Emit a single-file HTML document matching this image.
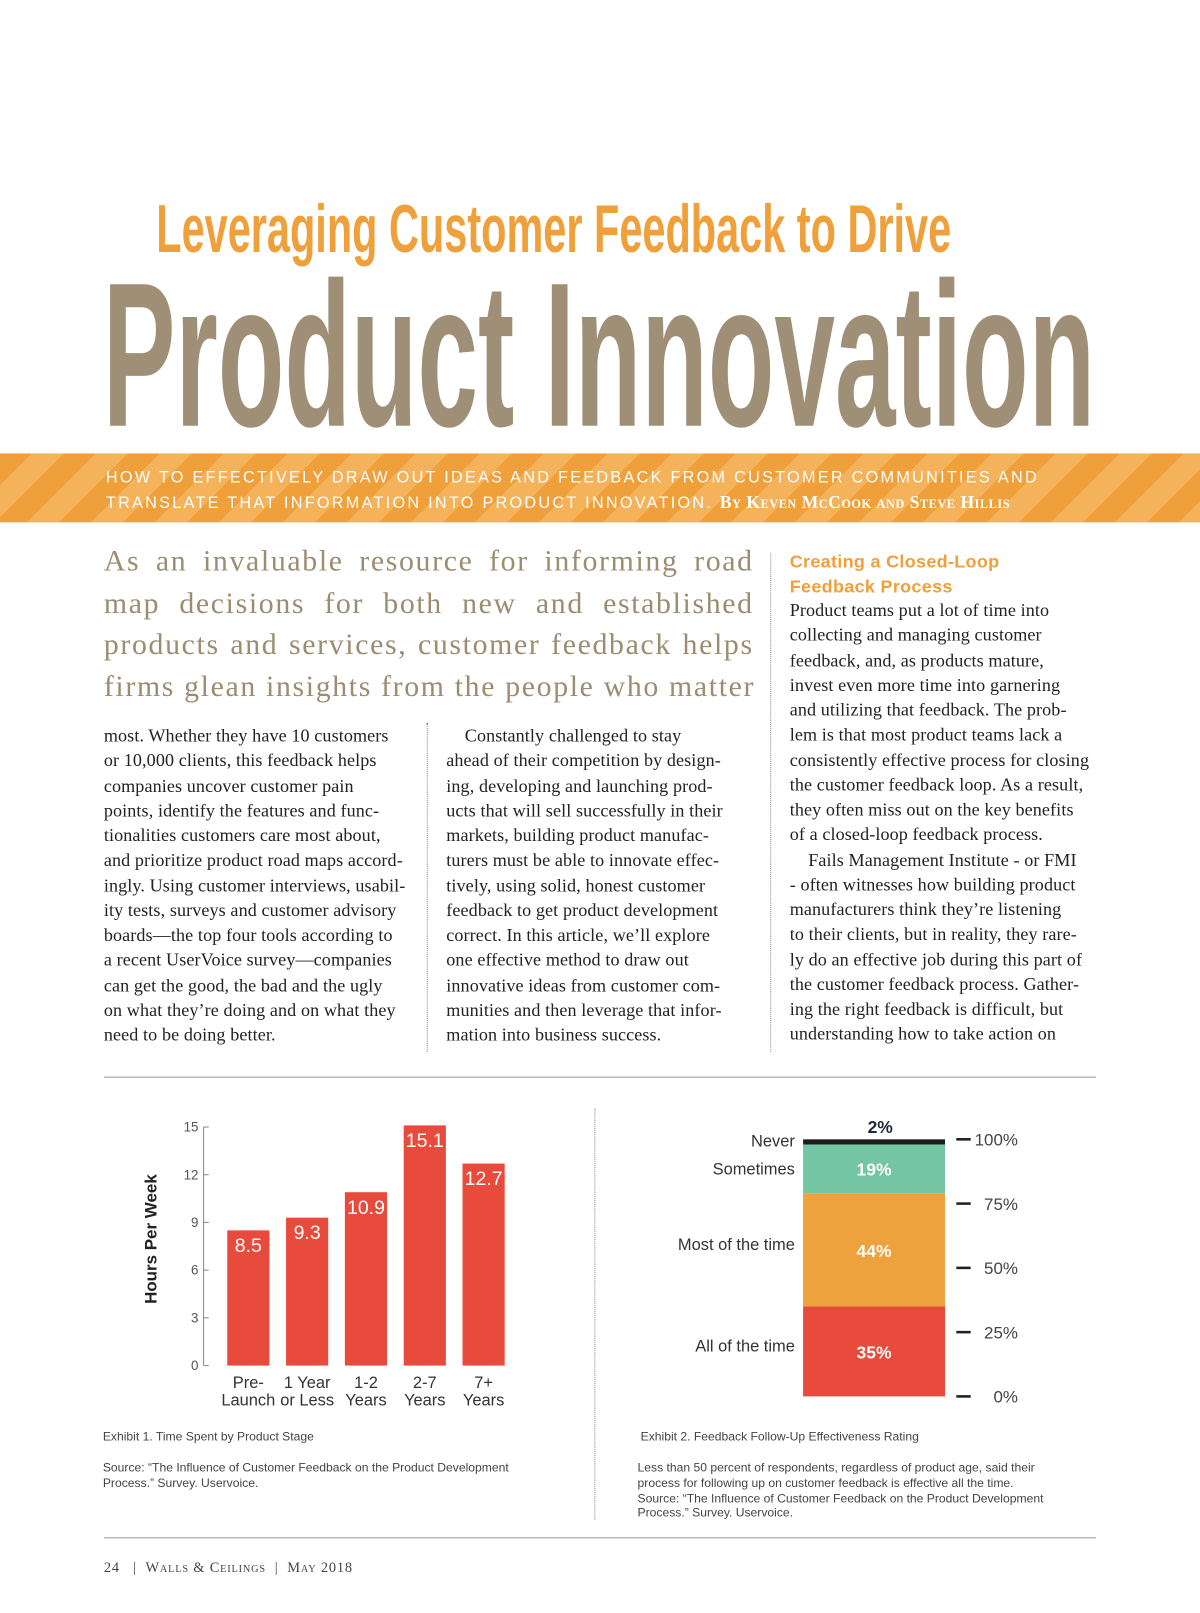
<!DOCTYPE html>
<html><head><meta charset="utf-8">
<style>
html,body{margin:0;padding:0;background:#fff;}
body{width:1200px;height:1613px;overflow:hidden;position:relative;}
#pg{position:absolute;left:0;top:0;width:1167px;height:1569px;transform:scale(1.02828);transform-origin:0 0;}
.abs{position:absolute;}
.serif{font-family:"Liberation Serif",serif;}
.sans{font-family:"Liberation Sans",sans-serif;}
.col{position:absolute;font-family:"Liberation Serif",serif;font-size:17.6px;line-height:24.25px;color:#222;letter-spacing:0.1px;}
.col span{display:block;white-space:nowrap;}
.intro span{display:block;text-align:justify;text-align-last:justify;white-space:nowrap;}
.cap{position:absolute;font-family:"Liberation Sans",sans-serif;font-size:11.8px;color:#444;line-height:14.8px;}
</style></head><body>
<div id="pg">
<svg class="abs" style="left:0;top:0" width="1167" height="440">
 <text x="152" y="245" textLength="773" lengthAdjust="spacingAndGlyphs" font-family="Liberation Sans Narrow, Liberation Sans, sans-serif" font-weight="bold" font-size="66" fill="#efa03a">Leveraging Customer Feedback to Drive</text>
 <text x="100" y="414" textLength="965" lengthAdjust="spacingAndGlyphs" font-family="Liberation Sans Narrow, Liberation Sans, sans-serif" font-weight="bold" font-size="200" fill="#a08f77">Product Innovation</text>
</svg>
<div class="abs" style="left:0;top:441px;width:1167px;height:67px;background:repeating-linear-gradient(135deg,#efa03a 0 22px,#f4b25a 22px 44px);">
 <div class="sans" style="position:absolute;left:103px;top:12px;color:#fff;font-size:15.8px;letter-spacing:2.2px;line-height:24px;white-space:nowrap;">HOW TO EFFECTIVELY DRAW OUT IDEAS AND FEEDBACK FROM CUSTOMER COMMUNITIES AND<br>TRANSLATE THAT INFORMATION INTO PRODUCT INNOVATION. <span class="serif" style="font-weight:bold;font-variant:small-caps;letter-spacing:0.5px;font-size:17px">By Keven McCook and Steve Hillis</span></div>
</div>
<div class="abs intro serif" style="left:101px;top:526px;width:632px;font-size:29px;line-height:40.5px;color:#9b8c72;letter-spacing:1.6px;">
<span>As an invaluable resource for informing road</span>
<span>map decisions for both new and established</span>
<span>products and services, customer feedback helps</span>
<span>firms glean insights from the people who matter</span>
</div>
<div class="col" style="left:101px;top:703px;width:290px">
<span>most. Whether they have 10 customers</span><span>or 10,000 clients, this feedback helps</span><span>companies uncover customer pain</span><span>points, identify the features and func-</span><span>tionalities customers care most about,</span><span>and prioritize product road maps accord-</span><span>ingly. Using customer interviews, usabil-</span><span>ity tests, surveys and customer advisory</span><span>boards—the top four tools according to</span><span>a recent UserVoice survey—companies</span><span>can get the good, the bad and the ugly</span><span>on what they’re doing and on what they</span><span>need to be doing better.</span>
</div>
<div class="col" style="left:434px;top:703px;width:296px">
<span>&nbsp;&nbsp;&nbsp;&nbsp;Constantly challenged to stay</span><span>ahead of their competition by design-</span><span>ing, developing and launching prod-</span><span>ucts that will sell successfully in their</span><span>markets, building product manufac-</span><span>turers must be able to innovate effec-</span><span>tively, using solid, honest customer</span><span>feedback to get product development</span><span>correct. In this article, we’ll explore</span><span>one effective method to draw out</span><span>innovative ideas from customer com-</span><span>munities and then leverage that infor-</span><span>mation into business success.</span>
</div>
<div class="abs sans" style="left:768px;top:534px;color:#efa03a;font-weight:bold;font-size:17.5px;line-height:24px;letter-spacing:0.3px">Creating a Closed-Loop<br>Feedback Process</div>
<div class="col" style="left:768px;top:581px;width:298px">
<span>Product teams put a lot of time into</span><span>collecting and managing customer</span><span>feedback, and, as products mature,</span><span>invest even more time into garnering</span><span>and utilizing that feedback. The prob-</span><span>lem is that most product teams lack a</span><span>consistently effective process for closing</span><span>the customer feedback loop. As a result,</span><span>they often miss out on the key benefits</span><span>of a closed-loop feedback process.</span><span>&nbsp;&nbsp;&nbsp;&nbsp;Fails Management Institute - or FMI</span><span>- often witnesses how building product</span><span>manufacturers think they’re listening</span><span>to their clients, but in reality, they rare-</span><span>ly do an effective job during this part of</span><span>the customer feedback process. Gather-</span><span>ing the right feedback is difficult, but</span><span>understanding how to take action on</span>
</div>
<div class="abs" style="left:415px;top:703px;height:320px;border-left:1.5px dotted #888"></div>
<div class="abs" style="left:749px;top:538px;height:485px;border-left:1.5px dotted #888"></div>
<div class="abs" style="left:101px;top:1047px;width:965px;border-top:1px solid #999"></div>
<div class="abs" style="left:578px;top:1078px;height:400px;border-left:1.5px dotted #888"></div>
<div class="abs" style="left:101px;top:1495px;width:965px;border-top:1px solid #999"></div>
<div class="abs serif" style="left:101px;top:1518px;font-size:14px;color:#444;font-variant:small-caps;letter-spacing:0.8px">24 &nbsp;&nbsp;|&nbsp; Walls &amp; Ceilings &nbsp;|&nbsp; May 2018</div>

<svg id="c1" class="abs" style="left:0;top:1070px" width="578" height="310"></svg>
<svg id="c2" class="abs" style="left:580px;top:1070px" width="500" height="310"></svg>

<div class="cap" style="left:100px;top:1390px">Exhibit 1. Time Spent by Product Stage</div>
<div class="cap" style="left:100px;top:1420px">Source: “The Influence of Customer Feedback on the Product Development<br>Process.” Survey. Uservoice.</div>
<div class="cap" style="left:623px;top:1390px">Exhibit 2. Feedback Follow-Up Effectiveness Rating</div>
<div class="cap" style="left:620px;top:1420px">Less than 50 percent of respondents, regardless of product age, said their<br>process for following up on customer feedback is effective all the time.<br>Source: “The Influence of Customer Feedback on the Product Development<br>Process.” Survey. Uservoice.</div>
</div>
<script>
const stages1 = ["Pre-|Launch","1 Year|or Less","1-2|Years","2-7|Years","7+|Years"];
const hours1 = [8.5, 9.3, 10.9, 15.1, 12.7];
const yTicks1 = [0, 3, 6, 9, 12, 15];
const cats2 = ["All of the time","Most of the time","Sometimes","Never"];
const pct2 = [35, 44, 19, 2];
const colors2 = ["#e84a3c","#eea23e","#74c5a3","#1d1d1d"];
const yTicks2 = [0, 25, 50, 75, 100];
const NS="http://www.w3.org/2000/svg";
function mk(p,t,a,txt){const e=document.createElementNS(NS,t);for(const k in a)e.setAttribute(k,a[k]);if(txt!=null)e.textContent=txt;p.appendChild(e);return e;}
(function(){
 const s=document.getElementById('c1');
 const y0=258, y15=26, ax=198;
 const y=v=>y0-(v/15)*(y0-y15);
 const bx=i=>221+i*57.2, bw=41;
 let e=mk(s,'line',{x1:ax,y1:y(15),x2:ax,y2:y(0),stroke:'#888','stroke-width':1});
 
 
 yTicks1.forEach(t=>{
  let l=mk(s,'line',{x1:ax,y1:y(t),x2:ax+5,y2:y(t),stroke:'#888','stroke-width':1});
  
  
  let tx=mk(s,'text',{x:ax-5,y:y(t)+4.5,'text-anchor':'end','font-family':'Liberation Sans Narrow, Liberation Sans, sans-serif','font-size':13,fill:'#555'},String(t));
  
  
 });
 let tt=mk(s,'text',{x:0,y:0,transform:'translate(152,135) rotate(-90)','text-anchor':'middle','font-family':'Liberation Sans, sans-serif','font-weight':'bold','font-size':16.5,fill:'#222'},'Hours Per Week');
 
 
 hours1.forEach((v,i)=>{
  let r=mk(s,'rect',{x:bx(i),y:y(v),width:bw,height:y(0)-y(v),fill:'#e84a3c'});
  
  
  let lb=mk(s,'text',{x:bx(i)+bw/2,y:y(v)+21,'text-anchor':'middle','font-family':'Liberation Sans Narrow, Liberation Sans, sans-serif','font-size':19,fill:'#fff'},v.toFixed(1));
  
  
  stages1[i].split('|').forEach((ln,j)=>{
   let c=mk(s,'text',{x:bx(i)+bw/2,y:y(0)+22+j*17,'text-anchor':'middle','font-family':'Liberation Sans Narrow, Liberation Sans, sans-serif','font-size':16,fill:'#333'},ln);
   
   
  });
 });
})();
(function(){
 const s=document.getElementById('c2');
 const yb=288, yt=38, bx=201, bw=138;
 const y=v=>yb-(v/100)*(yb-yt);
 let acc=0;
 pct2.forEach((v,i)=>{
  const top=y(acc+v), bot=y(acc);
  let r=mk(s,'rect',{x:bx,y:top,width:bw,height:bot-top,fill:colors2[i]});
  
  
  const mid=(top+bot)/2;
  const ly = i==3 ? top+7 : (i==2 ? top+29 : mid);
  let cl=mk(s,'text',{x:bx-8,y:ly,'text-anchor':'end','font-family':'Liberation Sans Narrow, Liberation Sans, sans-serif','font-size':16,fill:'#333'},cats2[i]);
  
  
  let vl;
  if(i==3){vl=mk(s,'text',{x:bx+bw/2+6,y:top-6,'text-anchor':'middle','font-family':'Liberation Sans, sans-serif','font-weight':'bold','font-size':17,fill:'#1d2a3a'},v+'%');}
  else{vl=mk(s,'text',{x:bx+bw/2,y:(i==2?top+30:mid+7),'text-anchor':'middle','font-family':'Liberation Sans, sans-serif','font-weight':'bold','font-size':17,fill:'#fff'},v+'%');}
  
  
  acc+=v;
 });
 yTicks2.forEach(t=>{
  let l=mk(s,'line',{x1:350,y1:y(t),x2:364,y2:y(t),stroke:'#222','stroke-width':2.5});
  
  
  let tx=mk(s,'text',{x:410,y:y(t)+6,'text-anchor':'end','font-family':'Liberation Sans Narrow, Liberation Sans, sans-serif','font-size':16.5,fill:'#444'},t+'%');
  
  
 });
})();
</script>
</body></html>
